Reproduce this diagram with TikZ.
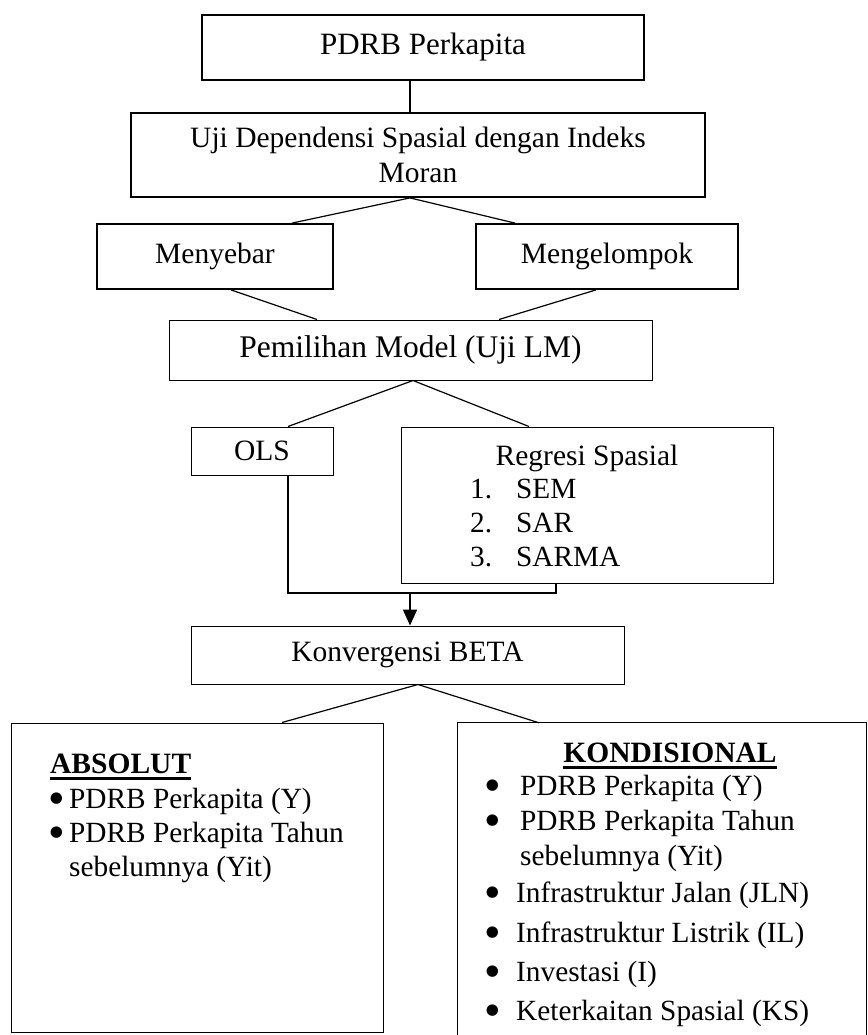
\documentclass[tikz,border=0pt]{standalone}
\usepackage{fontspec}
\setmainfont{Liberation Serif}
\newfontfamily\bulfont{DejaVu Sans}
\usetikzlibrary{arrows.meta,calc}
\begin{document}
\begin{tikzpicture}[x=1pt,y=-1pt,
  thickbox/.style={draw,line width=1.8pt,inner sep=0pt,align=center,font=\fontsize{29.5}{35}\selectfont},
  thinbox/.style={draw,line width=1pt,inner sep=0pt,align=center,font=\fontsize{29.5}{35}\selectfont},
  link/.style={line width=1.2pt},
  merge/.style={line width=2pt},
  txt/.style={inner sep=0pt,anchor=base west,font=\fontsize{29.3}{35}\selectfont},
  ttl/.style={inner sep=0pt,anchor=base,font=\fontsize{29.5}{35}\selectfont\bfseries},
  bul/.style={inner sep=0pt,anchor=center,font=\bulfont\fontsize{15}{15}\selectfont}]
\useasboundingbox (0,0) rectangle (867,1035);

% boxes
\node[thickbox,minimum width=442pt,minimum height=65pt,font=\fontsize{31}{35}\selectfont] (b1) at (423,47.5) {PDRB Perkapita};
\node[thickbox,minimum width=574pt,minimum height=84pt] (b2) at (418,155) {Uji Dependensi Spasial dengan Indeks\\Moran};
\node[thickbox,minimum width=236pt,minimum height=65pt] (m1) at (215,256.5) {Menyebar};
\node[thickbox,minimum width=262pt,minimum height=65pt] (m2) at (607,256.5) {Mengelompok};
\node[thinbox,minimum width=483pt,minimum height=60pt,font=\fontsize{31.5}{35}\selectfont] (pm) at (410.5,350) {Pemilihan Model (Uji LM)};
\node[thinbox,minimum width=142pt,minimum height=48pt] (ols) at (262,451) {OLS};
\node[thinbox,minimum width=372pt,minimum height=156pt] (reg) at (587,505) {};
\node[thinbox,minimum width=433pt,minimum height=58pt] (kb) at (407.5,655) {Konvergensi BETA};
\node[thinbox,minimum width=372pt,minimum height=309pt] (abs) at (197,877.5) {};
\node[inner sep=0pt,minimum width=408pt,minimum height=312pt] (kond) at (662,879) {};
\draw[line width=1pt] (kond.south west) |- (kond.north east) -- (kond.south east);

% Regresi text
\node[inner sep=0pt,anchor=base,font=\fontsize{29.5}{35}\selectfont] (regt) at (587,465) {Regresi Spasial};
\node[txt] (r1n) at (470,498) {1.};
\node[txt] (r1) at (516,498) {SEM};
\node[txt] (r2n) at (470,532) {2.};
\node[txt] (r2) at (516,532) {SAR};
\node[txt] (r3n) at (470,566) {3.};
\node[txt] (r3) at (516,566) {SARMA};

% connectors
\draw[link] ([xshift=-13pt]b1.south) -- ([xshift=-13pt]b1.south |- b2.north);
\draw[link] ([xshift=-8pt]b2.south) -- ([xshift=77pt]m1.north);
\draw[link] ([xshift=-8pt]b2.south) -- ([xshift=-92pt]m2.north);
\draw[link] ([xshift=16pt]m1.south) -- ([xshift=-93.5pt]pm.north);
\draw[link] ([xshift=-11pt]m2.south) -- ([xshift=88.5pt]pm.north);
\draw[link] ([xshift=2.5pt]pm.south) -- ([xshift=26pt]ols.north);
\draw[link] ([xshift=2.5pt]pm.south) -- ([xshift=-58pt]reg.north);
\coordinate (mj) at (410,593);
\draw[merge] ([xshift=26pt]ols.south) |- (mj) -| ([xshift=-31pt]reg.south);
\draw[merge,-{Triangle[length=16pt,width=14pt]}] (mj) -- (mj |- kb.north);
\draw[link] ([xshift=10.5pt]kb.south) -- ([xshift=85pt]abs.north);
\draw[link] ([xshift=10.5pt]kb.south) -- ([xshift=-123pt]kond.north);

% ABSOLUT
\node[ttl,anchor=base west] (abst) at (50,773) {ABSOLUT};
\draw[line width=3pt] ([yshift=-5.5pt]abst.base west) -- ([yshift=-5.5pt]abst.base east);
\node[bul] (ab1) at (56.5,799) {●};
\node[txt] (a1) at (69,808) {PDRB Perkapita (Y)};
\node[bul] (ab2) at (56.5,833) {●};
\node[txt] (a2) at (69,842) {PDRB Perkapita Tahun};
\node[txt] (a3) at (69,876) {sebelumnya (Yit)};

% KONDISIONAL
\node[ttl] (kt) at (670,762) {KONDISIONAL};
\draw[line width=3pt] ([yshift=-5.5pt]kt.base west) -- ([yshift=-5.5pt]kt.base east);
\node[bul] (kb1) at (492.5,786) {●};
\node[txt] (k1) at (520,795) {PDRB Perkapita (Y)};
\node[bul] (kb2) at (492.5,821) {●};
\node[txt] (k2) at (520,830) {PDRB Perkapita Tahun};
\node[txt] (k3) at (520,865) {sebelumnya (Yit)};
\node[bul] (kb4) at (492.5,893) {●};
\node[txt] (k4) at (516,902) {Infrastruktur Jalan (JLN)};
\node[bul] (kb5) at (492.5,933) {●};
\node[txt] (k5) at (516,942) {Infrastruktur Listrik (IL)};
\node[bul] (kb6) at (492.5,972) {●};
\node[txt] (k6) at (516,981) {Investasi (I)};
\node[bul] (kb7) at (492.5,1011) {●};
\node[txt] (k7) at (516,1020) {Keterkaitan Spasial (KS)};
\end{tikzpicture}
\end{document}
